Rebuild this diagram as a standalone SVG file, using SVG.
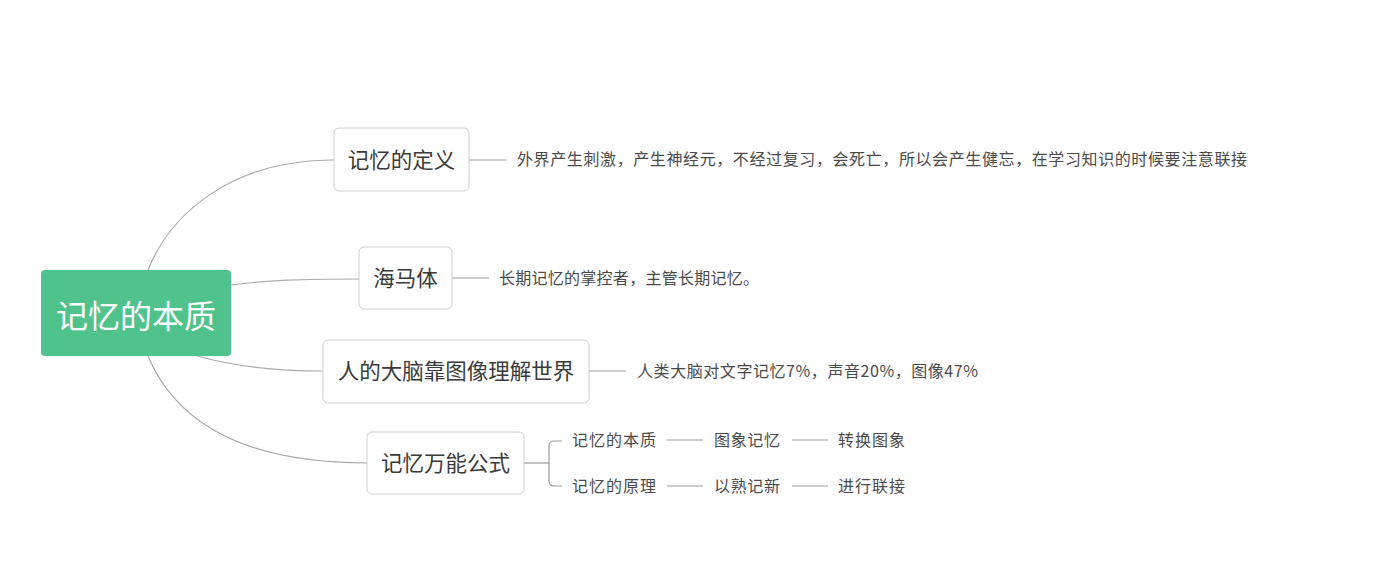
<svg xmlns="http://www.w3.org/2000/svg" width="1388" height="586" viewBox="0 0 1388 586">
<style>
text{font-family:"Noto Sans CJK SC","Liberation Sans",sans-serif;dominant-baseline:central}
.box{fill:#fff;stroke:#cfcfcf;stroke-width:1}
.nt{font-size:21.5px;fill:#3a3a3a;text-anchor:middle}
.lt{font-size:16px;fill:#4a4a4a}
.c{fill:none;stroke:#aaa;stroke-width:1.2}
.s{fill:none;stroke:#999;stroke-width:1.2}
</style>
<rect width="1388" height="586" fill="#fff"/>
<g id="connectors">
<path class="c" d="M148,270 C170,215 230,160 334,160"/>
<path class="c" d="M231,285 C270,280 300,279 359,279"/>
<path class="c" d="M197,356 C240,368 280,371 323,371"/>
<path class="c" d="M148,356 C175,420 240,463 367,463"/>
<path class="s" d="M469,160 H507"/>
<path class="s" d="M452,278 H489"/>
<path class="s" d="M589,371 H626"/>
<path class="s" d="M524,463 H549"/>
<path class="s" d="M562,441 H554 Q549,441 549,446 V481 Q549,486 554,486 H562"/>
<path class="s" d="M667,440 H703"/>
<path class="s" d="M792,440 H828"/>
<path class="s" d="M667,486 H703"/>
<path class="s" d="M792,486 H828"/>
</g>
<g id="root">
<rect x="41" y="270" width="190" height="86" rx="4" fill="#4fc38b"/>
<text x="136" y="313.5" font-size="32" fill="#fff" text-anchor="middle">记忆的本质</text>
</g>
<g id="n1">
<rect class="box" x="334" y="128" width="135" height="63" rx="5"/>
<text class="nt" x="401.5" y="158.5">记忆的定义</text>
</g>
<g id="n1-leaf">
<text class="lt" x="517" y="157.5" textLength="730" lengthAdjust="spacing">外界产生刺激，产生神经元，不经过复习，会死亡，所以会产生健忘，在学习知识的时候要注意联接</text>
</g>
<g id="n2">
<rect class="box" x="359" y="247" width="93" height="62" rx="5"/>
<text class="nt" x="405.5" y="276.5">海马体</text>
</g>
<g id="n2-leaf">
<text class="lt" x="499" y="276.5" textLength="260" lengthAdjust="spacing">长期记忆的掌控者，主管长期记忆。</text>
</g>
<g id="n3">
<rect class="box" x="323" y="340" width="266" height="63" rx="5"/>
<text class="nt" x="456" y="369.5">人的大脑靠图像理解世界</text>
</g>
<g id="n3-leaf">
<text class="lt" x="637" y="369.5" textLength="341" lengthAdjust="spacing">人类大脑对文字记忆7%，声音20%，图像47%</text>
</g>
<g id="n4">
<rect class="box" x="367" y="432" width="157" height="62" rx="5"/>
<text class="nt" x="445.5" y="461.5">记忆万能公式</text>
</g>
<g id="n4-a"><text class="lt" x="572" y="438.5" textLength="84" lengthAdjust="spacing">记忆的本质</text></g>
<g id="n4-a1"><text class="lt" x="714" y="438.5" textLength="66" lengthAdjust="spacing">图象记忆</text></g>
<g id="n4-a2"><text class="lt" x="838" y="438.5" textLength="67" lengthAdjust="spacing">转换图象</text></g>
<g id="n4-b"><text class="lt" x="572" y="484.5" textLength="84" lengthAdjust="spacing">记忆的原理</text></g>
<g id="n4-b1"><text class="lt" x="714" y="484.5" textLength="66" lengthAdjust="spacing">以熟记新</text></g>
<g id="n4-b2"><text class="lt" x="838" y="484.5" textLength="67" lengthAdjust="spacing">进行联接</text></g>
</svg>
